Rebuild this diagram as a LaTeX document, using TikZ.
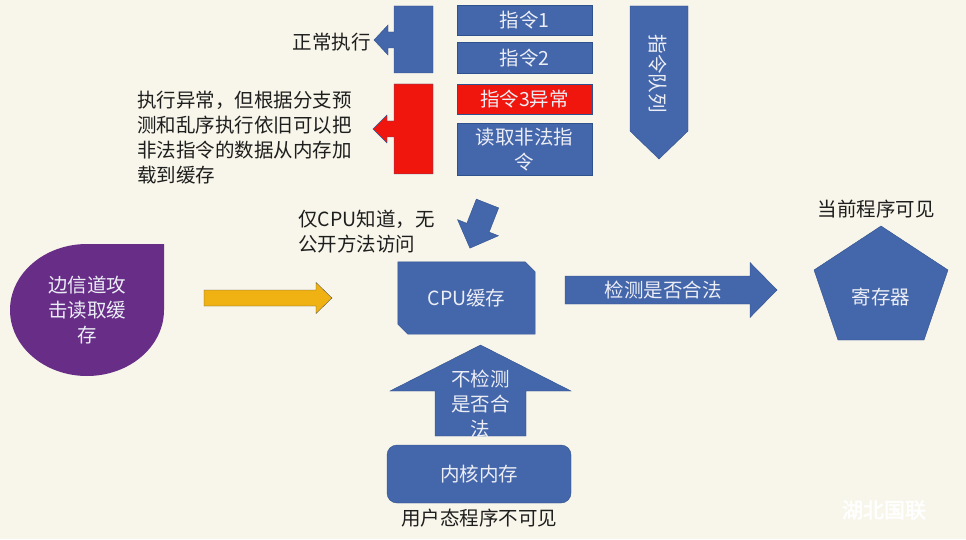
\documentclass[tikz,border=0pt]{standalone}
\usepackage{fontspec}
\setmainfont{Noto Sans CJK SC}
\newfontfamily\markfont[FakeBold=2.5]{Noto Sans CJK SC}
\usepackage{tikz}
\usetikzlibrary{positioning, calc}
\definecolor{pagebg}{RGB}{248, 246, 234}
\definecolor{boxblue}{RGB}{68, 102, 170}
\definecolor{boxedge}{RGB}{47, 82, 143}
\definecolor{alarmred}{RGB}{240, 22, 14}
\definecolor{sidepurple}{RGB}{103, 45, 135}
\definecolor{flowyellow}{RGB}{240, 178, 18}
\definecolor{boxtext}{RGB}{236, 238, 246}
\definecolor{inktext}{RGB}{30, 30, 30}
\newcommand{\labelsize}{\fontsize{19.5}{25}\selectfont}
% block arrow: style, tail, angle, length, shaft half, head half, head length
\newcommand{\blockarrow}[7]{%
  \path[#1, shift={#2}, rotate=#3] (0,-#5) -- ({#4-#7},-#5) -- ({#4-#7},-#6)
    -- (#4,0) -- ({#4-#7},#6) -- ({#4-#7},#5) -- (0,#5) -- cycle;}

\begin{document}
\begin{tikzpicture}[
    x=1pt, y=1pt,
    box/.style={draw=boxedge, fill=boxblue, text=boxtext, minimum width=135pt, align=center, font=\labelsize, inner sep=0pt},
    shapefill/.style={draw=boxedge, fill=boxblue},
    inside/.style={text=boxtext, align=center, font=\labelsize},
    note/.style={text=inktext, align=left, font=\labelsize, inner sep=0pt}
]
    \fill[pagebg] (0,0) rectangle (966,539);
    \useasboundingbox (0,0) rectangle (966,539);

    % Instruction column
    \node[box, minimum height=30pt] (ins1) at (524.5,519) {指令1};
    \node[box, minimum height=31pt, below=7pt of ins1] (ins2) {指令2};
    \node[box, minimum height=30pt, fill=alarmred, below=10pt of ins2] (ins3) {指令3异常};
    \node[box, minimum height=52pt, below=9pt of ins3] (ins4) {读取非法指\\令};

    % Queue arrow
    \path[shapefill] (630,533) -- (688,533) -- (688,408) -- (659,380) -- (630,408) -- cycle;
    \node[inside, rotate=-90] (queue) at (658,465) {指令队列};

    % Callouts on the left
    \path[shapefill] (433,533) -- (433,466) -- (394,466) -- (394,491) -- (388,491) -- (388,484)
        -- (374,499) -- (388,514) -- (388,507) -- (394,507) -- (394,533) -- cycle;
    \path[draw=boxedge, fill=alarmred] (433,455) -- (433,365) -- (394,365) -- (394,402) -- (387,402) -- (387,396)
        -- (373,410) -- (387,424) -- (387,418) -- (394,418) -- (394,455) -- cycle;
    \node[note, anchor=east] (normal) at (371,497) {正常执行};
    \node[note, anchor=west] (fault) at (137,401) {执行异常，但根据分支预\\测和乱序执行依旧可以把\\非法指令的数据从内存加\\载到缓存};

    % Cache in the middle
    \blockarrow{shapefill}{(487.5,335.5)}{-111.5}{48}{12}{22}{22}
    \node[note, anchor=west] (hidden) at (298,307.5) {仅CPU知道，无\\公开方法访问};
    \node[inside, minimum width=137pt, minimum height=72pt] (cache) at (466.5,241) {};
    \path[shapefill] (cache.north west) -- ($(cache.north east)+(-10,0)$) -- ($(cache.north east)+(0,-10)$)
        -- (cache.south east) -- ($(cache.south west)+(10,0)$) -- ($(cache.south west)+(0,10)$) -- cycle;
    \node[inside] (cachetext) at (cache.center) {CPU缓存};

    % Side channel
    \path[fill=sidepurple] (87,295) -- (164,295) -- (164,229) arc[start angle=0, end angle=-270, x radius=77, y radius=66] -- cycle;
    \node[inside] (attack) at (87,229) {边信道攻\\击读取缓\\存};
    \blockarrow{draw=gray!70!black, fill=flowyellow}{(204,241)}{0}{128}{8}{15.5}{16}

    % Register
    \blockarrow{shapefill}{(565,249)}{0}{212}{14}{27.5}{27}
    \node[inside] (check) at (663,249) {检测是否合法};
    \path[shapefill] (881,313) -- (948,269) -- (924,199) -- (838,199) -- (814,269) -- cycle;
    \node[inside] (reg) at (881,242) {寄存器};
    \node[note] (visible) at (876,330) {当前程序可见};

    % Kernel memory
    \blockarrow{shapefill}{(480.5,103)}{90}{91}{45.5}{90.5}{46}
    \node[inside] (nocheck) at (480.5,135) {不检测\\是否合\\法};
    \node[draw=boxedge, fill=boxblue, rounded corners=10pt, minimum width=184pt, minimum height=58pt] (kernel) at (479,65) {};
    \node[inside] (kerneltext) at (kernel.center) {内核内存};
    \node[note, below=6pt of kernel] (unseen) {用户态程序不可见};

    \node[text=white, font=\markfont\fontsize{21}{21}\selectfont] (mark) at (884,29) {湖北国联};
\end{tikzpicture}
\end{document}
